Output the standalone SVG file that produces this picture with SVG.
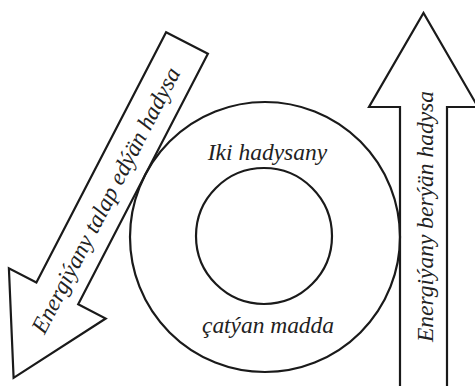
<svg xmlns="http://www.w3.org/2000/svg" width="475" height="386" viewBox="0 0 475 386">
<style>
.shape{fill:none;stroke:#1a1a1a;stroke-width:2.2;stroke-linejoin:miter}
.lbl{font-style:italic;font-size:23.5px;fill:#222;text-anchor:middle}
</style>
<rect width="475" height="386" fill="#fff"/>
<g id="outer-circle">
<circle class="shape" cx="265" cy="237" r="135"/>
<text class="lbl" font-family="Liberation Serif" x="267.5" y="160">Iki hadysany</text>
<text class="lbl" font-family="Liberation Serif" x="268" y="333" textLength="132" lengthAdjust="spacing">çatýan madda</text>
</g>
<g id="inner-circle">
<circle class="shape" cx="264" cy="236" r="68"/>
</g>
<g id="arrow-left">
<polygon class="shape" points="166.1,32.2 207.9,53.8 78.2,304.2 105.7,318.5 13.6,377.8 8.9,268.3 36.4,282.6"/>
<text class="lbl" font-family="Liberation Serif" transform="translate(112.7,203.9) rotate(-62.6)" x="0" y="0">Energiýany talap edýän hadysa</text>
</g>
<g id="arrow-right">
<polygon class="shape" points="400,392 400,107 369,107 423.5,13 478,107 447,107 447,392"/>
<text class="lbl" font-family="Liberation Serif" transform="translate(433,216.5) rotate(-90)" x="0" y="0">Energiýany berýän hadysa</text>
</g>
<g id="connectors"/>
</svg>
